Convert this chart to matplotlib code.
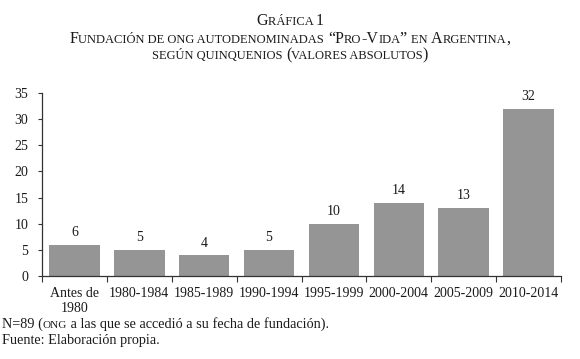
import matplotlib
matplotlib.use('Agg')
import matplotlib.pyplot as plt
from matplotlib.font_manager import FontProperties, findfont
from matplotlib import ft2font

# Data
categories = ['Antes de\n1980', '1980-1984', '1985-1989', '1990-1994',
              '1995-1999', '2000-2004', '2005-2009', '2010-2014']
values = [6, 5, 4, 5, 10, 14, 13, 32]

title_1 = 'Gráfica 1'
title_2 = 'Fundación de ong autodenominadas “Pro-Vida” en Argentina,'
title_3 = 'según quinquenios (valores absolutos)'
note_1 = [('N=89 (', 10.3), ('ONG', 8.0), (' a las que se accedió a su fecha de fundación).', 10.3)]
note_2 = [('Fuente: Elaboración propia.', 10.3)]

SERIF = 'Liberation Serif'
TXT = '#1a1a1a'
W, H = 580, 359
DPI = 100

plt.rcParams['font.family'] = SERIF
fig = plt.figure(figsize=(W / DPI, H / DPI), dpi=DPI)
ft = ft2font.FT2Font(findfont(FontProperties(family=SERIF)))
KERN = getattr(ft2font, 'Kerning', None)
KERN = KERN.DEFAULT if KERN is not None else 0


def advance(s, size):
    # glyph advances plus kerning, in pixels (same as the Agg renderer lays out)
    ft.set_size(size, DPI)
    total = 0
    prev = None
    for c in s:
        idx = ft.get_char_index(ord(c))
        if prev is not None:
            total += ft.get_kerning(prev, idx, KERN) / 64
        total += ft.load_char(ord(c)).linearHoriAdvance / 65536
        prev = idx
    return total


def place_runs(x_px, y_px, runs, ha='left'):
    total = sum(advance(s, size) for s, size in runs)
    x = x_px - total / 2 if ha == 'center' else x_px
    for s, size in runs:
        fig.text(x / W, 1 - y_px / H, s, fontsize=size, color=TXT,
                 va='baseline', ha='left')
        x += advance(s, size)


def small_caps(s, big, small):
    runs = []
    for c in s:
        size = small if c.islower() else big
        if c == ' ' and runs:
            size = runs[-1][1]
        ch = c.upper()
        if runs and runs[-1][1] == size:
            runs[-1] = (runs[-1][0] + ch, size)
        else:
            runs.append((ch, size))
    return runs


# Title (small caps)
place_runs(290, 25, small_caps(title_1, 11.5, 9), ha='center')
place_runs(290, 43, small_caps(title_2, 11.5, 9), ha='center')
place_runs(290, 59, small_caps(title_3, 11.5, 9), ha='center')

# Chart
ax = fig.add_axes([42 / W, 1 - 276 / H, (561 - 42) / W, (276 - 93) / H])
x = list(range(len(categories)))
ax.bar(x, values, width=0.78, color='#959595', zorder=2)
for xi, v in zip(x, values):
    ax.annotate(str(v), (xi, v), xytext=(0, 4), textcoords='offset points',
                ha='center', va='bottom', fontsize=10, color=TXT)

ax.set_xlim(-0.5, len(categories) - 0.5)
ax.set_ylim(0, 35)
ax.set_yticks(range(0, 36, 5))
ax.set_xticks(x)
ax.set_xticklabels(categories, fontsize=10, color=TXT, linespacing=1.15)
ax.set_xticks([i - 0.5 for i in range(len(categories) + 1)], minor=True)
ax.tick_params(axis='x', which='major', length=0, pad=8)
ax.tick_params(axis='x', which='minor', length=4, width=0.8, direction='out', color='#333333')
ax.tick_params(axis='y', length=3, width=0.8, direction='out', pad=7, labelsize=10,
               labelcolor=TXT, color='#333333')
for side in ['top', 'right']:
    ax.spines[side].set_visible(False)
for side in ['left', 'bottom']:
    ax.spines[side].set_linewidth(0.9)
    ax.spines[side].set_color('#333333')

# Footnotes
place_runs(2, 328, note_1)
place_runs(2, 344, note_2)

fig.savefig('out.png', dpi=DPI)
plt.close()
